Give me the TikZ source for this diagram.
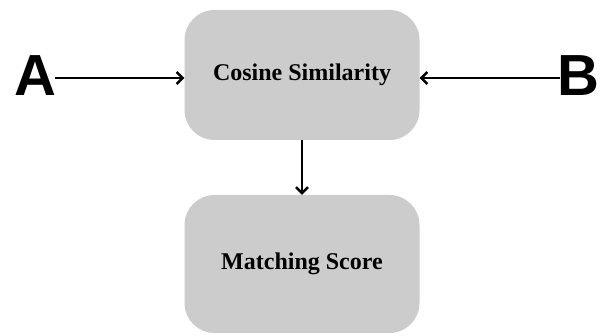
\documentclass[tikz,border=0pt]{standalone}
\usepackage{fontspec}
\setmainfont{Liberation Serif}
\newfontfamily\letterfont{Liberation Sans}
\usetikzlibrary{arrows.meta}
\definecolor{boxgray}{HTML}{CCCCCC}
\tikzset{
  procbox/.style={fill=boxgray, draw=none, rounded corners=30pt, minimum width=235pt, inner sep=0pt, font=\fontsize{24}{28}\selectfont\bfseries},
  letter/.style={inner sep=0pt, font=\letterfont\fontsize{58}{60}\selectfont\bfseries},
  conn/.style={line width=2.4pt, -{Straight Barb[length=6pt,width=12pt,line width=2.4pt]}}
}
\begin{document}
\begin{tikzpicture}[x=1pt,y=-1pt]
\useasboundingbox (0,0) rectangle (600,336);
\node[procbox, minimum height=130pt] (cos) at (302,75) {Cosine Similarity};
\node[procbox, minimum height=138pt] (match) at (302,264) {Matching Score};
\node[letter, anchor=west] (A) at (14,76) {A};
\node[letter, anchor=east] (B) at (599.5,76) {B};
\draw[conn] (A.east) ++(-1pt,-2pt) coordinate (a1) -- (a1 -| cos.west);
\draw[conn] (B.west) ++(3pt,-2pt) coordinate (b1) -- (b1 -| cos.east);
\draw[conn] (cos.south) -- (match.north);
\end{tikzpicture}
\end{document}
